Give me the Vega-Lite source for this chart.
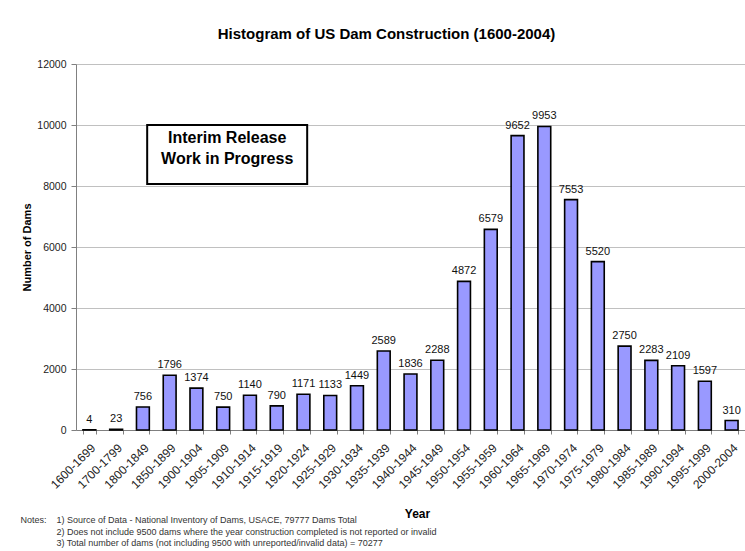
{
  "$schema": "https://vega.github.io/schema/vega-lite/v6.json",
  "width": 669,
  "height": 366,
  "autosize": {"type": "none"},
  "padding": {"left": 76, "top": 64, "right": 0, "bottom": 121},
  "background": "white",
  "config": {"font": "Liberation Sans", "view": {"stroke": null}},
  "title": {
    "text": "Histogram of US Dam Construction (1600-2004)",
    "font": "Liberation Sans",
    "fontSize": 15,
    "fontWeight": "bold",
    "color": "black",
    "anchor": "middle",
    "dx": -24,
    "offset": 17
  },
  "data": {
    "values": [
      {"period": "1600-1699", "dams": 4},
      {"period": "1700-1799", "dams": 23},
      {"period": "1800-1849", "dams": 756},
      {"period": "1850-1899", "dams": 1796},
      {"period": "1900-1904", "dams": 1374},
      {"period": "1905-1909", "dams": 750},
      {"period": "1910-1914", "dams": 1140},
      {"period": "1915-1919", "dams": 790},
      {"period": "1920-1924", "dams": 1171},
      {"period": "1925-1929", "dams": 1133},
      {"period": "1930-1934", "dams": 1449},
      {"period": "1935-1939", "dams": 2589},
      {"period": "1940-1944", "dams": 1836},
      {"period": "1945-1949", "dams": 2288},
      {"period": "1950-1954", "dams": 4872},
      {"period": "1955-1959", "dams": 6579},
      {"period": "1960-1964", "dams": 9652},
      {"period": "1965-1969", "dams": 9953},
      {"period": "1970-1974", "dams": 7553},
      {"period": "1975-1979", "dams": 5520},
      {"period": "1980-1984", "dams": 2750},
      {"period": "1985-1989", "dams": 2283},
      {"period": "1990-1994", "dams": 2109},
      {"period": "1995-1999", "dams": 1597},
      {"period": "2000-2004", "dams": 310}
    ]
  },
  "encoding": {
    "x": {
      "field": "period",
      "type": "nominal",
      "sort": null,
      "title": "Year",
      "scale": {"paddingInner": 0.52, "paddingOuter": 0.26},
      "axis": {
        "labelAngle": -45,
        "labelFontSize": 12,
        "labelColor": "#222222",
        "labelPadding": 8,
        "labelLimit": 0,
        "tickBand": "extent",
        "tickSize": 4,
        "tickColor": "#808080",
        "domainColor": "#808080",
        "titleFontSize": 12,
        "titleFontWeight": "bold",
        "titleColor": "black",
        "titleY": 87,
        "titleX": 341,
        "titleBaseline": "alphabetic"
      }
    },
    "y": {
      "field": "dams",
      "type": "quantitative",
      "title": "Number of Dams",
      "scale": {"domain": [0, 12000], "nice": false},
      "axis": {
        "values": [0, 2000, 4000, 6000, 8000, 10000, 12000],
        "format": "d",
        "labelFontSize": 10.5,
        "labelColor": "#222222",
        "labelPadding": 5,
        "tickSize": 5,
        "tickColor": "#808080",
        "domainColor": "#808080",
        "gridColor": "#c0c0c0",
        "titleFontSize": 11,
        "titleFontWeight": "bold",
        "titleColor": "black",
        "titlePadding": 4
      }
    }
  },
  "layer": [
    {
      "mark": {"type": "bar", "fill": "#9999ff", "stroke": "black", "strokeWidth": 1.6}
    },
    {
      "mark": {"type": "text", "baseline": "bottom", "dy": -5, "fontSize": 11, "color": "#111111"},
      "encoding": {"text": {"field": "dams", "type": "quantitative", "format": "d"}}
    },
    {
      "transform": [{"filter": "datum.period === '1905-1909'"}],
      "mark": {
        "type": "point",
        "shape": "M-0.95,-0.369L1.05,-0.369L1.05,0.369L-0.95,0.369Z",
        "size": 25600,
        "filled": true,
        "fill": "white",
        "stroke": "black",
        "strokeWidth": 2,
        "opacity": 1
      },
      "encoding": {
        "y": {"datum": 9033, "type": "quantitative"}
      }
    },
    {
      "transform": [{"filter": "datum.period === '1905-1909'"}],
      "mark": {
        "type": "text",
        "fontSize": 16,
        "fontWeight": "bold",
        "color": "black",
        "lineBreak": "\n",
        "lineHeight": 21,
        "baseline": "middle",
        "dx": 4,
        "dy": -16
      },
      "encoding": {
        "y": {"datum": 9033, "type": "quantitative"},
        "text": {"value": "Interim Release\nWork in Progress"}
      }
    },
    {
      "transform": [{"filter": "datum.period === '1600-1699'"}],
      "mark": {"type": "text", "fontSize": 9, "color": "#333333", "align": "left", "baseline": "alphabetic", "dx": -69, "dy": 93},
      "encoding": {
        "y": {"datum": 0, "type": "quantitative"},
        "text": {"value": "Notes:"}
      }
    },
    {
      "transform": [{"filter": "datum.period === '1600-1699'"}],
      "mark": {"type": "text", "fontSize": 9, "color": "#333333", "align": "left", "baseline": "alphabetic", "lineBreak": "\n", "lineHeight": 11.5, "dx": -33, "dy": 93},
      "encoding": {
        "y": {"datum": 0, "type": "quantitative"},
        "text": {"value": "1) Source of Data - National Inventory of Dams, USACE, 79777 Dams Total\n2) Does not include 9500 dams where the year construction completed is not reported or invalid\n3) Total number of dams (not including 9500 with unreported/invalid data) = 70277"}
      }
    }
  ]
}
